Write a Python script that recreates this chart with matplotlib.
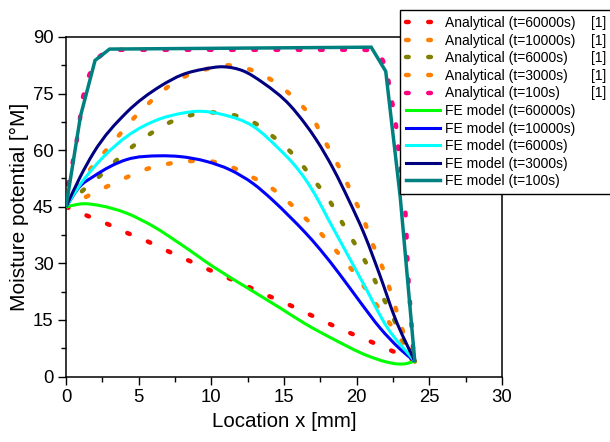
import matplotlib
matplotlib.use("Agg")
import matplotlib.pyplot as plt
from matplotlib.ticker import MultipleLocator
from matplotlib.path import Path
from matplotlib.patches import PathPatch
from matplotlib.lines import Line2D

plt.rcParams['font.family'] = ['Liberation Sans', 'DejaVu Sans']

# ---- Analytical solutions [1] ----
an60000_x = [0, 1.47, 2.87, 4.24, 5.62, 6.97, 8.35, 9.72, 11.1, 12.48, 13.85, 15.19, 16.56, 17.93, 19.31, 20.69, 22.07, 23.44, 24]
an60000_y = [45, 42.6, 40.4, 38, 35.8, 33.3, 30.9, 28.5, 26.2, 23.9, 21.5, 19.3, 16.8, 14.3, 11.9, 9.7, 7.4, 5.1, 4.2]

an10000_x = [0, 1.42, 2.84, 4.17, 5.55, 7.04, 8.53, 10.02, 11.4, 12.73, 13.97, 15.14, 16.2, 17.3, 18.28, 19.27, 20.2, 21.04, 21.84, 22.75, 24]
an10000_y = [45, 47.7, 50.4, 52.8, 55.0, 56.4, 57.1, 57.0, 55.5, 53, 50.4, 46.9, 42.9, 38.9, 34.7, 30.2, 25.6, 20.8, 16.4, 11.5, 4]

an6000_x = [0, 1.15, 2.34, 3.44, 4.59, 5.78, 7.16, 8.72, 10.18, 11.63, 12.89, 14.08, 15.18, 16.2, 17.13, 18.12, 18.85, 19.6, 20.41, 21.1, 21.74, 22.41, 23.05, 24]
an6000_y = [45, 49.3, 53.2, 57.2, 61, 64.3, 67.4, 69.4, 70, 69.2, 67.4, 64.1, 60.6, 56.3, 51.7, 46.7, 41.8, 36.9, 31.8, 26.7, 21.5, 16.4, 11.1, 4]

an3000_x = [0, 0.8, 1.6, 2.57, 3.55, 4.52, 5.55, 6.81, 8.05, 9.5, 11.06, 12.48, 13.8, 14.9, 15.99, 17.06, 17.75, 18.5, 19.2, 19.8, 20.46, 20.96, 21.56, 22.07, 22.52, 22.93, 23.4, 24]
an3000_y = [45, 50.3, 54.6, 59.1, 63.5, 67.9, 71.9, 76.2, 79.3, 81.3, 82.5, 81.6, 79.4, 76.5, 72.7, 67.9, 62.8, 57.6, 52.4, 47.3, 42, 36.4, 31.1, 25.6, 20.2, 15, 9.7, 4]

an100_x = [0, 0.16, 0.46, 0.74, 0.96, 1.15, 1.53, 2.1, 2.7, 3.4, 20.5, 21.3, 21.8, 22.1, 22.3, 22.6, 22.8, 22.9, 23.15, 23.3, 23.4, 23.45, 23.5, 23.6, 23.7, 23.8, 23.9, 24]
an100_y = [45, 51.3, 56.8, 62.5, 68.3, 73.8, 79.3, 84.2, 86, 86.6, 86.6, 86.4, 83.8, 80.9, 75.3, 69.7, 63.8, 58.3, 52, 46.7, 40.8, 35.4, 29.6, 23.4, 17.7, 12.2, 6.2, 4]

# ---- FE model results ----
fe60000_x = [0, 1.19, 2.34, 4.17, 6.0, 8.0, 10.13, 12.43, 14.72, 16.45, 18.4, 20.69, 22.0, 22.75, 23.3, 24]
fe60000_y = [45, 45.8, 45.3, 43.3, 39.8, 34.8, 29.1, 23.6, 18.2, 14.0, 9.9, 5.6, 3.9, 3.35, 3.35, 4.1]

fe10000_x = [0, 0.96, 1.88, 4.17, 6.47, 7.84, 9.68, 11.28, 12.89, 14.15, 15.41, 16.45, 17.48, 18.85, 20.23, 21.6, 22.98, 24]
fe10000_y = [45, 50.4, 53, 57.5, 58.5, 58.3, 57, 54.8, 51.1, 47.0, 42.3, 38.2, 33.7, 27, 19.8, 12.9, 7.3, 4]

fe6000_x = [0, 1.0, 2.57, 4.17, 6.47, 8.0, 9.0, 10.82, 12.89, 14.72, 15.6, 16.45, 17.2, 18.0, 18.85, 20.46, 22.07, 24]
fe6000_y = [45, 51, 58.2, 63.6, 68.3, 69.8, 70.3, 69.4, 66.3, 60.1, 56.6, 52.4, 47.8, 42.0, 36.0, 24.6, 13.2, 4]

fe3000_x = [0, 0.96, 1.88, 4.17, 6.47, 8.0, 9.5, 10.82, 12.2, 13.58, 15.41, 16.45, 17.25, 18.4, 19.43, 20.57, 21.6, 22.64, 24]
fe3000_y = [45, 52.8, 59.2, 70.0, 76.9, 80.0, 81.5, 82.1, 81.0, 77.8, 71.9, 67.0, 62.6, 55.0, 47.0, 37.3, 26.8, 15.5, 4]

fe100_x = [0, 1, 2, 3, 21, 22, 23, 24]
fe100_y = [45, 69.1, 83.8, 86.8, 87.3, 80.9, 47.5, 4.0]

labels_an = ['Analytical (t=60000s)', 'Analytical (t=10000s)', 'Analytical (t=6000s)',
             'Analytical (t=3000s)', 'Analytical (t=100s)']
labels_fe = ['FE model (t=60000s)', 'FE model (t=10000s)', 'FE model (t=6000s)',
             'FE model (t=3000s)', 'FE model (t=100s)']
colors_an = ['#FF0000', '#FF8000', '#808000', '#FF8000', '#FF0080']
colors_fe = ['#00FF00', '#0000FF', '#00FFFF', '#000080', '#008080']

an_data = [(an60000_x, an60000_y), (an10000_x, an10000_y), (an6000_x, an6000_y),
           (an3000_x, an3000_y), (an100_x, an100_y)]
fe_data = [(fe60000_x, fe60000_y), (fe10000_x, fe10000_y), (fe6000_x, fe6000_y),
           (fe3000_x, fe3000_y), (fe100_x, fe100_y)]
smooth_an = [True, True, True, True, False]
smooth_fe = [True, True, True, True, False]

DOT_LW = 3.2
DOT_DASH = (0.6, 4.4)
FE_LW = [2.2, 2.2, 2.2, 2.2, 2.5]


def make_path(x, y, smooth):
    n = len(x)
    if not smooth:
        return Path(list(zip(x, y)))
    d = [(y[i + 1] - y[i]) / (x[i + 1] - x[i]) for i in range(n - 1)]
    m = [d[0]]
    for i in range(1, n - 1):
        m.append((d[i - 1] * (x[i + 1] - x[i]) + d[i] * (x[i] - x[i - 1])) / (x[i + 1] - x[i - 1]))
    m.append(d[-1])
    verts = [(x[0], y[0])]
    codes = [Path.MOVETO]
    for i in range(n - 1):
        h = x[i + 1] - x[i]
        verts += [(x[i] + h / 3, y[i] + m[i] * h / 3),
                  (x[i + 1] - h / 3, y[i + 1] - m[i + 1] * h / 3),
                  (x[i + 1], y[i + 1])]
        codes += [Path.CURVE4] * 3
    return Path(verts, codes)


fig = plt.figure(figsize=(6.10, 4.42), dpi=100)
ax = fig.add_axes([66/610, 1 - 376.5/442, (502-66)/610, (376.5-37)/442])

handles = []
for (x, y), c, lab, sm in zip(an_data, colors_an, labels_an, smooth_an):
    p = PathPatch(make_path(x, y, sm), fill=False, edgecolor=c, lw=DOT_LW,
                  linestyle=(0, DOT_DASH), capstyle='round', joinstyle='round', zorder=2)
    ax.add_patch(p)
    h = Line2D([], [], color=c, lw=DOT_LW, linestyle=(0, DOT_DASH),
               dash_capstyle='round', label=lab)
    handles.append(h)

for (x, y), c, lab, sm, lw in zip(fe_data, colors_fe, labels_fe, smooth_fe, FE_LW):
    p = PathPatch(make_path(x, y, sm), fill=False, edgecolor=c, lw=lw,
                  joinstyle='miter', capstyle='butt', zorder=3)
    ax.add_patch(p)
    h = Line2D([], [], color=c, lw=lw, label=lab)
    handles.append(h)

ax.set_xlim(0, 30)
ax.set_ylim(0, 90)
ax.xaxis.set_major_locator(MultipleLocator(5))
ax.xaxis.set_minor_locator(MultipleLocator(2.5))
ax.yaxis.set_major_locator(MultipleLocator(15))
ax.yaxis.set_minor_locator(MultipleLocator(7.5))
ax.tick_params(which='major', direction='out', length=6, width=1, labelsize=13.3, pad=3)
ax.tick_params(which='minor', direction='out', length=3.5, width=1)
for s in ax.spines.values():
    s.set_linewidth(1.1)
ax.set_xlabel('Location x [mm]', fontsize=14.8, labelpad=4)
ax.set_ylabel('Moisture potential [°M]', fontsize=15.0, labelpad=3)

leg = fig.legend(handles=handles, loc='upper left',
                 bbox_to_anchor=(400/610, 0, 240/610, 1 - 10/442),
                 mode='expand', ncol=1, fontsize=10, frameon=True, fancybox=False,
                 edgecolor='black', framealpha=1, borderpad=0.45, labelspacing=0.255,
                 handlelength=2.4, handletextpad=0.4, borderaxespad=0)
leg.get_frame().set_linewidth(1.0)

fig.canvas.draw()
inv = fig.transFigure.inverted()
for t in leg.get_texts()[:5]:
    bb = t.get_window_extent()
    ymid = (bb.y0 + bb.y1) / 2
    _, yf = inv.transform((0, ymid))
    fig.text(591/610, yf, '[1]', fontsize=10, va='center', ha='left', zorder=10)

fig.savefig('out.png', dpi=100)
